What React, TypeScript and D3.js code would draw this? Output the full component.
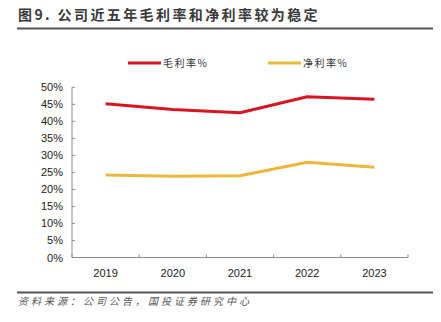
import React from "react";
import * as d3 from "d3";

const years = ["2019", "2020", "2021", "2022", "2023"];
const grossMargin = [45.2, 43.5, 42.5, 47.2, 46.5];
const netMargin = [24.2, 23.9, 24.0, 28.0, 26.5];
const yTicks = [0, 5, 10, 15, 20, 25, 30, 35, 40, 45, 50];
const seriesNames = ["毛利率%", "净利率%"];
const title = "图9. 公司近五年毛利率和净利率较为稳定";
const source = "资料来源：公司公告，国投证券研究中心";

const W = 441;
const H = 322;
const left = 72;
const right = 408;
const top = 87.3;
const bottom = 257.5;
const RED = "#d7161f";
const YEL = "#ecb83a";
const AXIS = "#8c8c8c";
const FONT = "'Liberation Sans', Arial, sans-serif";
const CJK = "'Noto Sans CJK SC', sans-serif";

export default function App() {
  const x = d3.scaleBand<string>().domain(years).range([left, right]);
  const y = d3.scaleLinear().domain([0, 50]).range([bottom, top]);
  const line = d3
    .line<number>()
    .x((_, i) => (x(years[i]) as number) + x.bandwidth() / 2)
    .y((d) => y(d));
  const series = [
    { name: seriesNames[0], data: grossMargin, color: RED, lx: 128, tx: 163 },
    { name: seriesNames[1], data: netMargin, color: YEL, lx: 268, tx: 303 },
  ];
  const xTickPos = years.map((yr) => x(yr) as number).concat([right]);
  return (
    <svg
      width={W}
      height={H}
      style={{ position: "absolute", left: 0, top: 0, background: "#fff" }}
    >
      <text
        x={18}
        y={20}
        fontFamily={CJK}
        fontSize={14}
        fontWeight={700}
        fill="#3a3a3a"
        letterSpacing={2.4}
      >
        {title}
      </text>
      <line x1={17} x2={433} y1={28.5} y2={28.5} stroke="#555" strokeWidth={2} />

      {series.map((s) => (
        <g key={s.name}>
          <line x1={s.lx} x2={s.lx + 33} y1={63} y2={63} stroke={s.color} strokeWidth={3} />
          <text
            x={s.tx}
            y={67}
            fontFamily={CJK}
            fontSize={10}
            fill="#333"
            letterSpacing={1.5}
          >
            {s.name}
          </text>
        </g>
      ))}

      {/* y axis */}
      <line x1={left} x2={left} y1={top} y2={bottom} stroke={AXIS} strokeWidth={1} />
      {yTicks.map((t) => (
        <g key={t}>
          <line x1={left} x2={left + 3} y1={y(t)} y2={y(t)} stroke={AXIS} strokeWidth={1} />
          <text
            x={63}
            y={y(t) + 4}
            textAnchor="end"
            fontFamily={FONT}
            fontSize={11}
            fill="#222"
          >
            {t}%
          </text>
        </g>
      ))}

      {/* x axis */}
      <line x1={left} x2={right} y1={bottom} y2={bottom} stroke={AXIS} strokeWidth={1} />
      {xTickPos.map((p, i) => (
        <line key={i} x1={p} x2={p} y1={bottom} y2={bottom - 3} stroke={AXIS} strokeWidth={1} />
      ))}
      {years.map((yr) => (
        <text
          key={yr}
          x={(x(yr) as number) + x.bandwidth() / 2}
          y={277}
          textAnchor="middle"
          fontFamily={FONT}
          fontSize={11}
          fill="#222"
        >
          {yr}
        </text>
      ))}

      {series.map((s) => (
        <path
          key={s.name}
          d={line(s.data) || ""}
          fill="none"
          stroke={s.color}
          strokeWidth={3}
          strokeLinejoin="round"
        />
      ))}

      <line x1={17} x2={433} y1={292.5} y2={292.5} stroke="#555" strokeWidth={2} />
      <text
        x={18}
        y={305}
        fontFamily={CJK}
        fontSize={10}
        fontStyle="italic"
        fill="#555"
        letterSpacing={3}
        transform="skewX(0)"
      >
        {source}
      </text>
    </svg>
  );
}
